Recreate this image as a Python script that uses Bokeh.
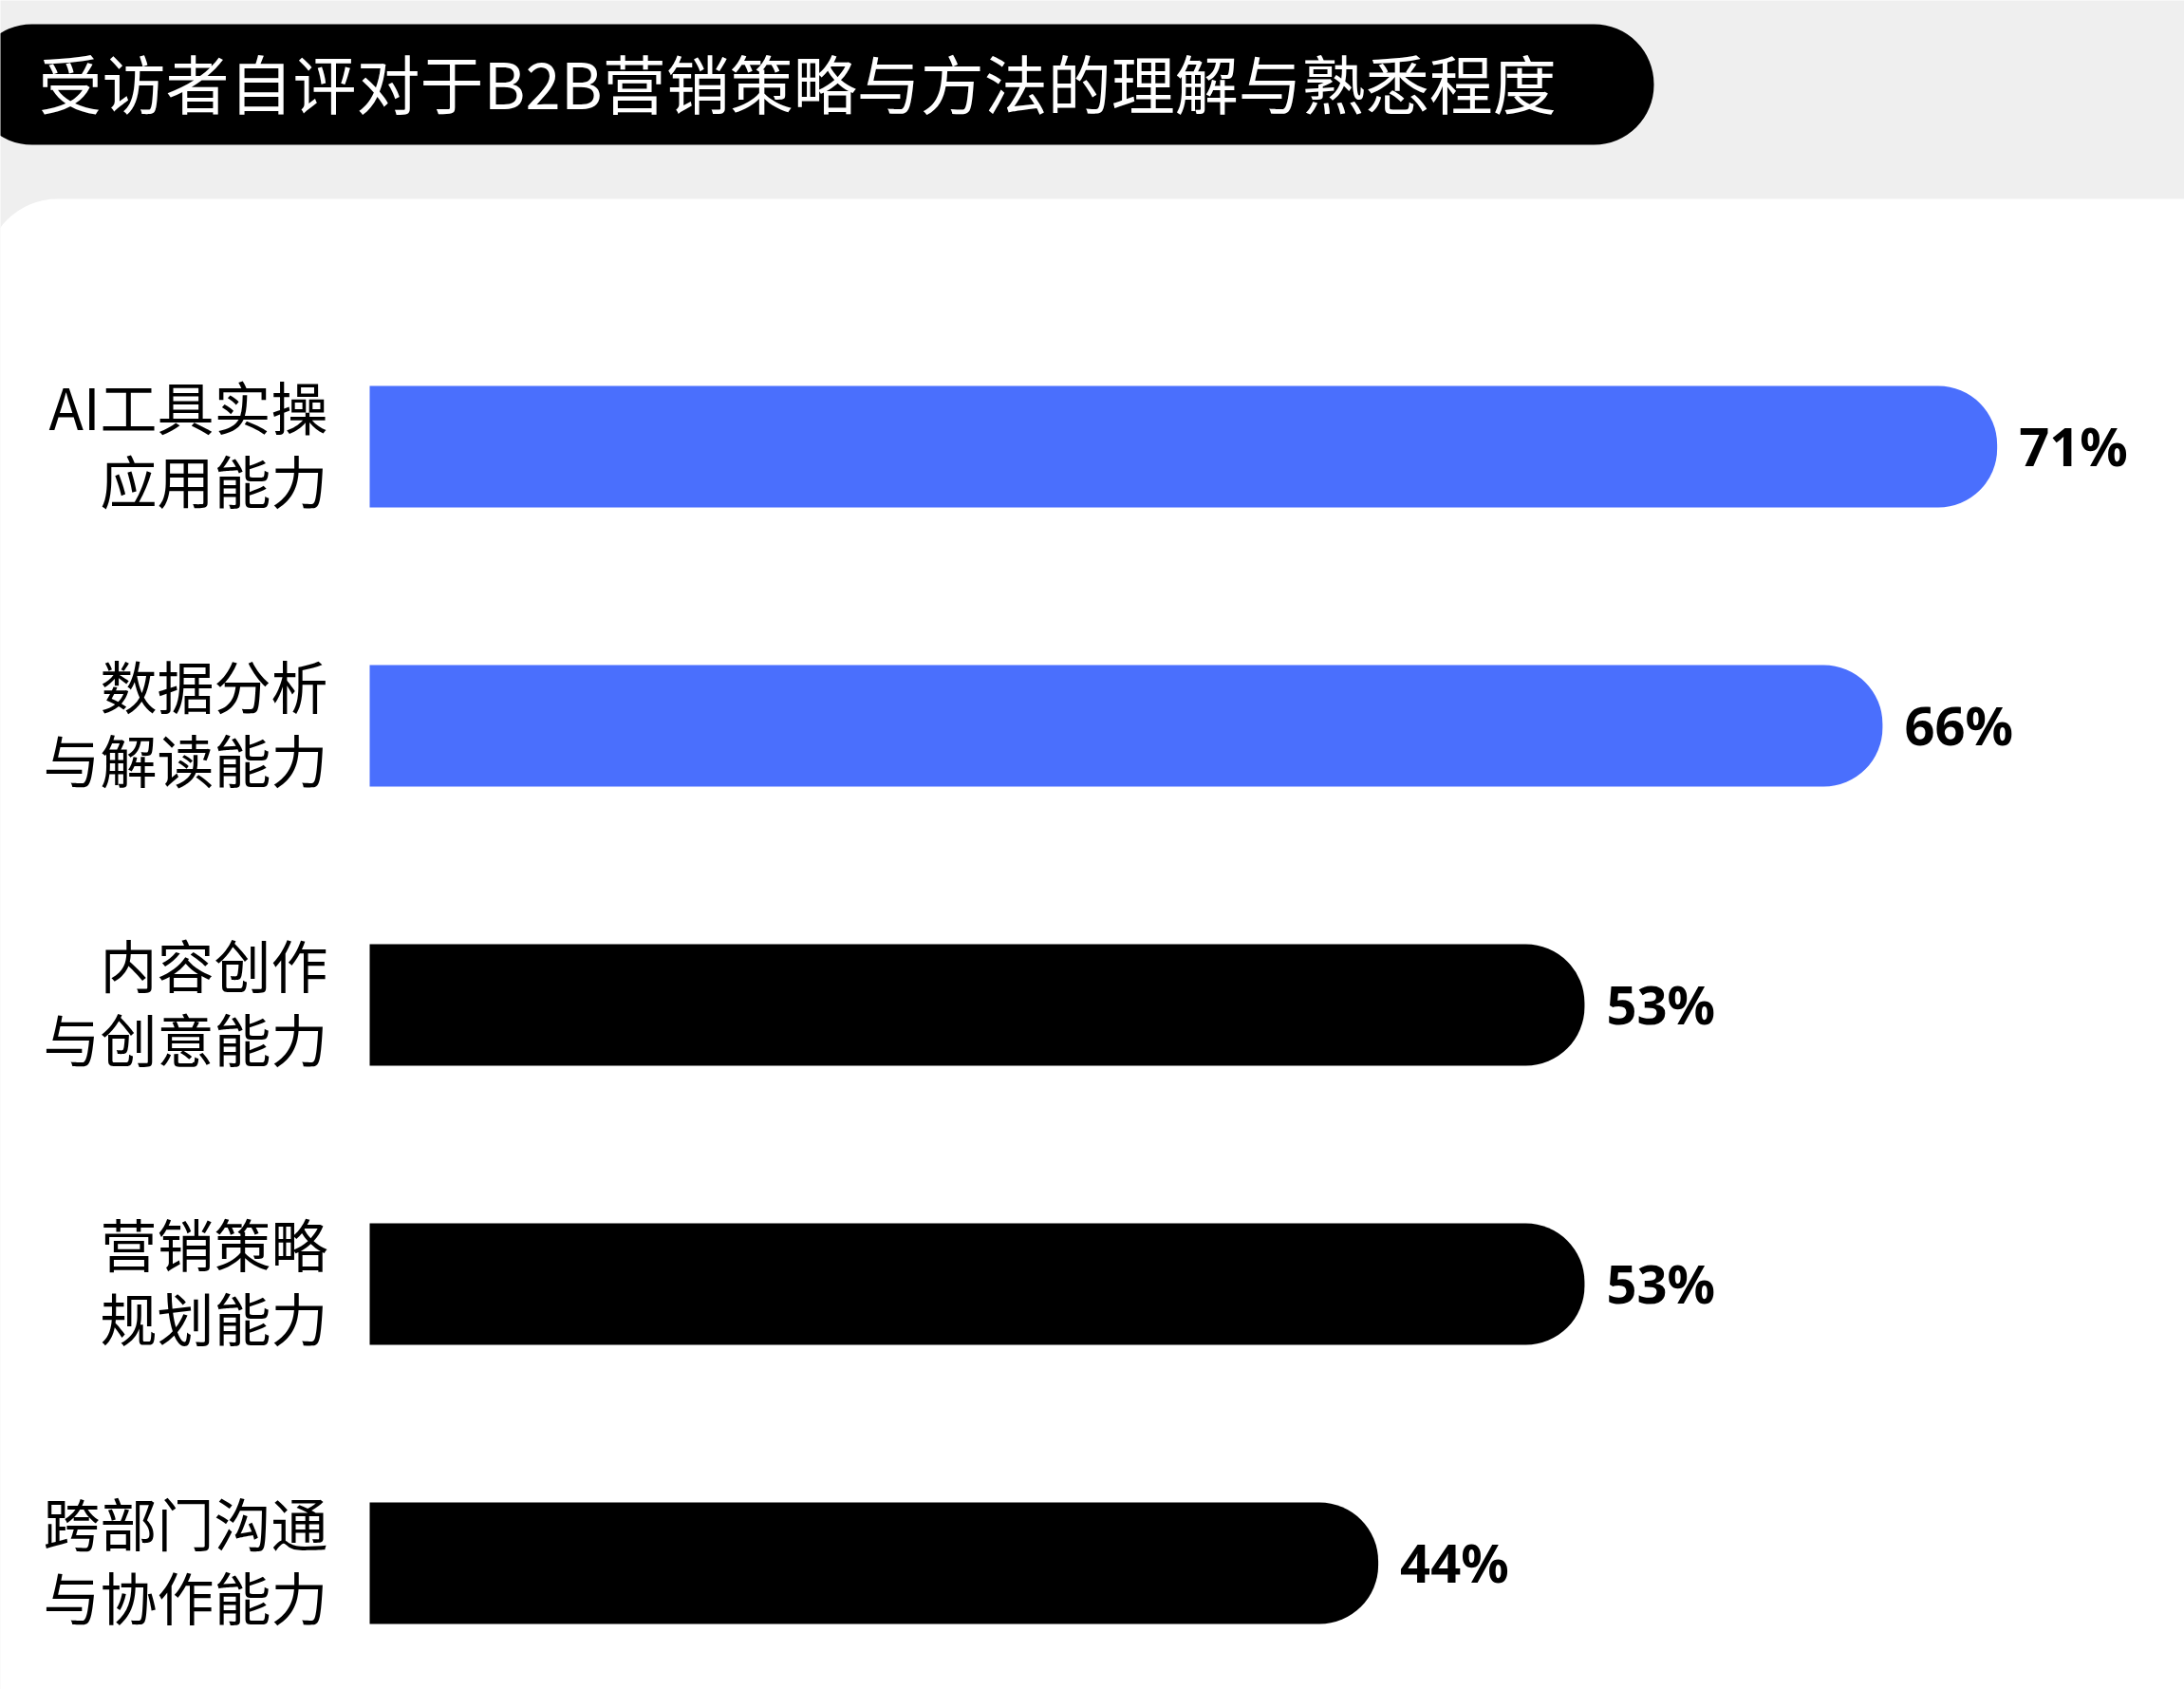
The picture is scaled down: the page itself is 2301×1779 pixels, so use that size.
from bokeh.plotting import figure
from bokeh.models import Range1d, BoxAnnotation, ColumnDataSource
from bokeh.core.properties import value
from bokeh.embed import file_html
from bokeh.resources import INLINE

# ---- data ----
title_text = "受访者自评对于B2B营销策略与方法的理解与熟悉程度"
categories = ["AI工具实操\n应用能力", "数据分析\n与解读能力", "内容创作\n与创意能力",
              "营销策略\n规划能力", "跨部门沟通\n与协作能力"]
values = [71, 66, 53, 53, 44]
bar_colors = ["#4a6ffd", "#4a6ffd", "#000000", "#000000", "#000000"]

# ---- layout constants (pixels) ----
W, H = 2301, 1779
X0_PX = 389          # where 0% sits
PX_PER_PCT = 24.15
Y0_PX = 470          # centre of first bar
ROW_PX = 294         # distance between bars
BAR_PX = 128

def dx(px):
    return (px - X0_PX) / PX_PER_PCT

def dy(py):
    return (py - Y0_PX) / ROW_PX

p = figure(width=W, height=H,
           x_range=Range1d(dx(0), dx(W)),
           y_range=Range1d(dy(H), dy(0)),
           output_backend="svg", toolbar_location=None,
           x_axis_type=None, y_axis_type=None,
           min_border=0, min_border_left=0, min_border_right=0,
           min_border_top=0, min_border_bottom=0,
           background_fill_color="#efefef", border_fill_color="#efefef",
           outline_line_color=None)
p.grid.visible = False

# white panel
panel = BoxAnnotation(left=dx(-15), right=dx(W + 200), top=dy(209), bottom=dy(H + 200),
                      fill_color="#ffffff", fill_alpha=1.0, line_color=None,
                      border_radius=(75, 0, 0, 0), level="underlay")
p.add_layout(panel)

# title pill
pill = BoxAnnotation(left=dx(-30), right=dx(1742), top=dy(25), bottom=dy(152),
                     fill_color="#000000", fill_alpha=1.0, line_color=None,
                     border_radius=63, level="underlay")
p.add_layout(pill)

p.text(x=[dx(40)], y=[dy(85)], text=[title_text],
       text_font=value("Noto Sans CJK SC"), text_font_size=value("67px"),
       text_color="#ffffff", text_align="left", text_baseline="middle")

idx = list(range(len(categories)))
src = ColumnDataSource(dict(
    y=idx, val=values, color=bar_colors, cat=categories,
    pct=[f"{v}%" for v in values], zero=[0] * len(values)))

p.hbar(y="y", left="zero", right="val", height=BAR_PX / ROW_PX, source=src,
       fill_color="color", line_color=None, border_radius=(0, 62, 62, 0))

p.text(x="zero", y="y", text="cat", source=src, x_offset=-44, y_offset=-5,
       text_font=value("Noto Sans CJK SC"), text_font_size=value("60px"),
       text_line_height=0.9,
       text_color="#000000", text_align="right", text_baseline="middle")

p.text(x="val", y="y", text="pct", source=src, x_offset=23, y_offset=-2,
       text_font=value("Noto Sans"), text_font_size=value("56px"),
       text_font_style="bold",
       text_color="#000000", text_align="left", text_baseline="middle")

open("out.html", "w").write(file_html(p, INLINE))
